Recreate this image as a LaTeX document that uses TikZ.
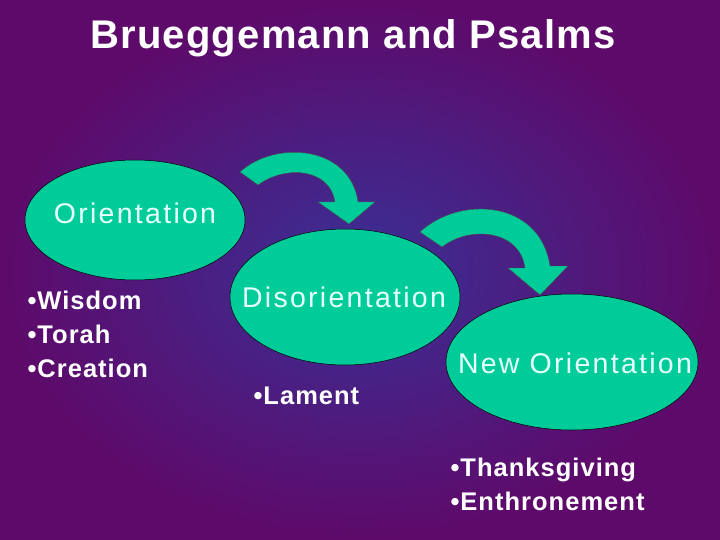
\documentclass[tikz,border=0pt]{standalone}
\usepackage{fontspec}
\setmainfont{Liberation Sans}
\newfontfamily\wide[LetterSpace=8]{Liberation Sans}
\newfontfamily\wideb[LetterSpace=4]{Liberation Sans}
\newfontfamily\widet[LetterSpace=3]{Liberation Sans}
\usetikzlibrary{shapes.geometric}
\definecolor{mint}{HTML}{00CC99}
\definecolor{bgin}{HTML}{3A3096}
\definecolor{bgout}{HTML}{5E0A6A}
\definecolor{txt}{HTML}{E6FFFF}
\begin{document}
\begin{tikzpicture}[x=1pt,y=-1pt,
  ttl/.style={font=\widet\fontsize{40}{44}\selectfont\bfseries,text=white},
  lbl/.style={font=\wide\fontsize{28.5}{30}\selectfont,text=txt},
  bul/.style={font=\wideb\fontsize{25.5}{34}\selectfont\bfseries,text=white,align=left},
  arr/.style={fill=mint,draw=black!70,line width=0.4pt}]
\fill[inner color=bgin,outer color=bgout] (0,0) rectangle (720,540);
\useasboundingbox (0,0) rectangle (720,540);
\node[ttl] (title) at (353,38) {Brueggemann and Psalms};
\fill[mint,draw=black,line width=0.5pt] (135,220) ellipse [x radius=110,y radius=60];
\fill[mint,draw=black,line width=0.5pt] (345,297) ellipse [x radius=115,y radius=68];
\fill[mint,draw=black,line width=0.5pt] (572,362) ellipse [x radius=126,y radius=68];
\node[lbl] (o) at (135,213) {Orientation};
\node[lbl] (d) at (344,297) {Disorientation};
\node[lbl] (n) at (575,363) {New Orientation};
\node[bul,anchor=north west] (b1) at (24,287) {•Wisdom\\•Torah\\•Creation};
\node[bul,anchor=north west] (b2) at (250,383) {•Lament};
\node[bul,anchor=north west] (b3) at (447,454) {•Thanksgiving\\•Enthronement};
\path[arr] (240,172) .. controls (275,140) and (350,145) .. (358,202)
  -- (375,202) -- (349,224) -- (318,202) -- (335,202)
  .. controls (330,168) and (285,165) .. (258,185) -- cycle;
\path[arr] (420,232) .. controls (460,195) and (540,200) .. (550,266)
  -- (568,266) -- (540,295) -- (508,268) -- (525,268)
  .. controls (520,230) and (470,225) .. (442,247) -- cycle;
\end{tikzpicture}
\end{document}
